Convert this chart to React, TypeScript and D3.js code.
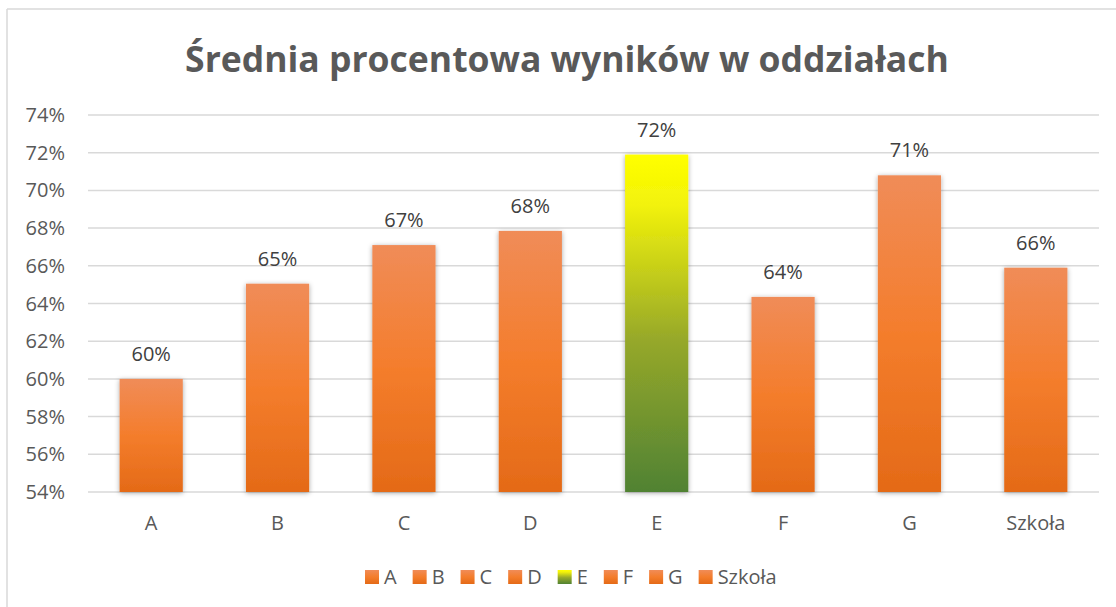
import React from "react";
import * as d3 from "d3";

// dane
const categories = ["A", "B", "C", "D", "E", "F", "G", "Szkoła"];
const values = [60.0, 65.05, 67.1, 67.85, 71.9, 64.35, 70.8, 65.9];
const highlighted = ["E"];
const yTicks = [54, 56, 58, 60, 62, 64, 66, 68, 70, 72, 74];

const W = 1116;
const H = 607;
const textColor = "#595959";
const font = "'Open Sans', 'Liberation Sans', sans-serif";

// szerokosc tekstu przez canvas
const ctx = document.createElement("canvas").getContext("2d");
const textWidth = (t: string, size: number) => {
  if (!ctx) return t.length * size * 0.6;
  ctx.font = `${size}px 'Open Sans'`;
  return ctx.measureText(t).width;
};

const App = () => {
  const x = d3
    .scaleBand<string>()
    .domain(categories)
    .range([88, 1099])
    .paddingInner(0.5)
    .paddingOuter(0.25);

  const y = d3.scaleLinear().domain([54, 74]).range([492, 115]);

  const fillFor = (c: string) => (highlighted.includes(c) ? "url(#gradE)" : "url(#gradOrange)");

  const legendFont = 20;
  const sq = 14;
  let lx = 365;
  const legend = categories.map((c) => {
    const item = { c, x: lx };
    lx += sq + 6 + textWidth(c, legendFont) + 15;
    return item;
  });

  return (
    <svg
      width={W}
      height={H}
      style={{ position: "absolute", left: 0, top: 0, background: "#fff", fontFamily: font }}
    >
      <defs>
        <linearGradient id="gradOrange" x1="0" y1="0" x2="0" y2="1">
          <stop offset="0%" stopColor="#F08C58" />
          <stop offset="50%" stopColor="#F47D2C" />
          <stop offset="100%" stopColor="#E46A17" />
        </linearGradient>
        <linearGradient id="gradE" x1="0" y1="0" x2="0" y2="1">
          <stop offset="0%" stopColor="#FFFF00" />
          <stop offset="15%" stopColor="#F2F20A" />
          <stop offset="55%" stopColor="#96A82A" />
          <stop offset="100%" stopColor="#508233" />
        </linearGradient>
        <filter id="shadow" x="-20%" y="-10%" width="140%" height="120%">
          <feDropShadow dx="0" dy="1" stdDeviation="2.5" floodColor="#000" floodOpacity="0.35" />
        </filter>
      </defs>

      {/* ramka wykresu */}
      <line x1={7} x2={W} y1={9} y2={9} stroke="#d9d9d9" strokeWidth={1.5} />
      <line x1={7} x2={7} y1={9} y2={H} stroke="#d9d9d9" strokeWidth={1.5} />

      <text
        x={567}
        y={72}
        textAnchor="middle"
        fontSize={35.5}
        fontWeight="bold"
        fill={textColor}
      >
        Średnia procentowa wyników w oddziałach
      </text>

      {/* siatka i os Y */}
      {yTicks.map((t) => (
        <g key={t}>
          <line x1={88} x2={1099} y1={y(t)} y2={y(t)} stroke="#d9d9d9" strokeWidth={1.5} />
          <text x={65} y={y(t)} dy="0.35em" textAnchor="end" fontSize={20} fill={textColor}>
            {t}%
          </text>
        </g>
      ))}

      {/* slupki */}
      {categories.map((c, i) => (
        <g key={c}>
          <rect
            x={x(c)}
            y={y(values[i])}
            width={x.bandwidth()}
            height={y(54) - y(values[i])}
            fill={fillFor(c)}
            filter="url(#shadow)"
          />
          <text
            x={(x(c) as number) + x.bandwidth() / 2}
            y={y(values[i]) - 18}
            textAnchor="middle"
            fontSize={20}
            fill="#404040"
          >
            {Math.round(values[i])}%
          </text>
          <text
            x={(x(c) as number) + x.bandwidth() / 2}
            y={523}
            dy="0.35em"
            textAnchor="middle"
            fontSize={20}
            fill={textColor}
          >
            {c}
          </text>
        </g>
      ))}

      {/* legenda */}
      {legend.map((l) => (
        <g key={l.c}>
          <rect x={l.x} y={570} width={sq} height={sq} fill={fillFor(l.c)} />
          <text x={l.x + sq + 5} y={577} dy="0.35em" fontSize={legendFont} fill={textColor}>
            {l.c}
          </text>
        </g>
      ))}
    </svg>
  );
};

export default App;
